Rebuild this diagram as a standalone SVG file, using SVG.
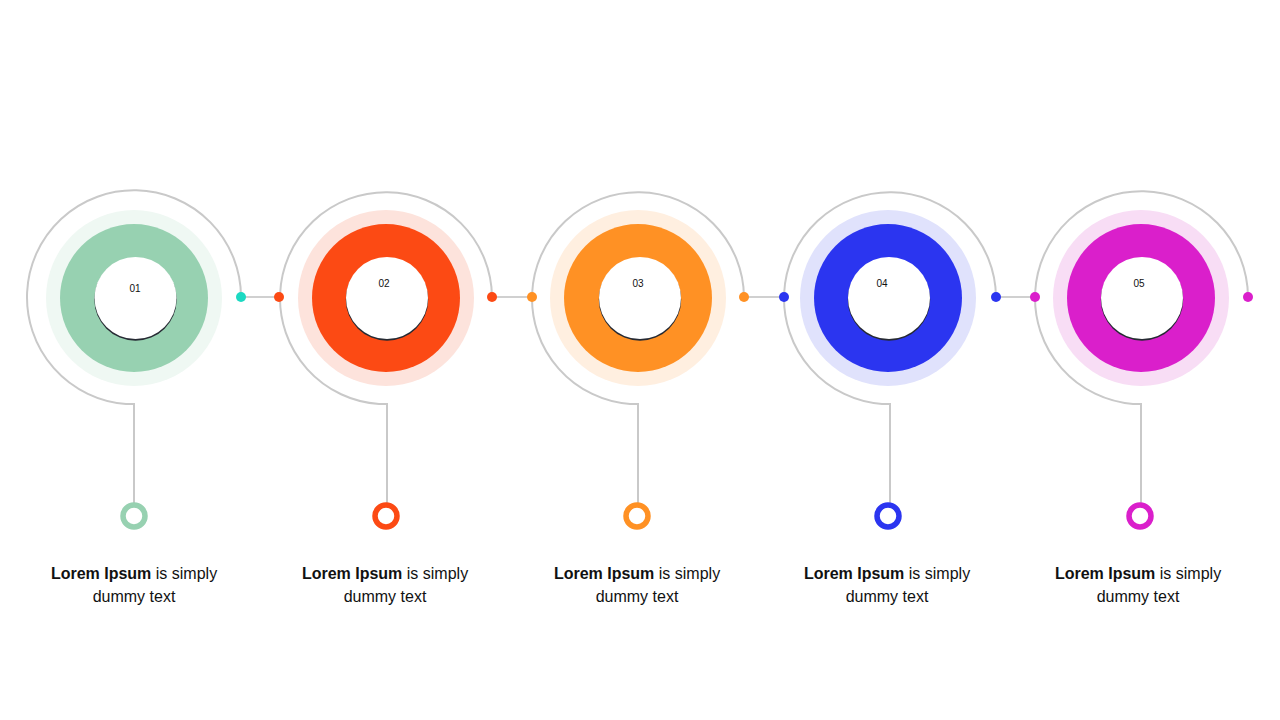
<svg xmlns="http://www.w3.org/2000/svg" width="1280" height="720" viewBox="0 0 1280 720">
<style>
.arc{fill:none;stroke:#C9C9C9;stroke-width:2}
.conn{stroke:#D0D0D0;stroke-width:2}
.shadow{fill:#262A33}
.inner{fill:#FFFFFF}
.num{font-family:"Liberation Sans",Arial,sans-serif;font-size:10px;fill:#111;text-anchor:middle}
.cap{font-family:"Liberation Sans",Arial,sans-serif;font-size:16px;fill:#111;text-anchor:middle}
.b{font-weight:bold}
</style>
<rect width="1280" height="720" fill="#FFFFFF"/>
<g id="connectors">
<line class="conn" x1="241" y1="297" x2="279" y2="297"/>
<line class="conn" x1="492" y1="297" x2="532" y2="297"/>
<line class="conn" x1="744" y1="297" x2="784" y2="297"/>
<line class="conn" x1="996" y1="297" x2="1035" y2="297"/>
</g>
<g id="step1">
<path class="arc" d="M241 297 A107 107 0 1 0 126 404 L134 404 L134 503"/>
<circle cx="134" cy="298" r="88" fill="#EFF8F3"/>
<circle cx="134" cy="298" r="74" fill="#97D1B1"/>
<circle class="shadow" cx="135.5" cy="299.5" r="41.2"/>
<circle class="inner" cx="135.5" cy="298" r="41"/>
<text class="num" x="135" y="292">01</text>
<circle cx="241" cy="297" r="5" fill="#1CD9C2"/>
<circle cx="134" cy="516" r="11" fill="none" stroke="#97D1B1" stroke-width="5.5"/>
<text class="cap" x="134" y="579"><tspan class="b">Lorem Ipsum</tspan> is simply</text>
<text class="cap" x="134" y="602">dummy text</text>
</g>
<g id="step2">
<path class="arc" d="M492 297 A106 106 0 1 0 379 404 L387 404 L387 503"/>
<circle cx="386" cy="298" r="88" fill="#FDE3DC"/>
<circle cx="386" cy="298" r="74" fill="#FC4A14"/>
<circle class="shadow" cx="387" cy="299.5" r="41.2"/>
<circle class="inner" cx="387" cy="298" r="41"/>
<text class="num" x="384" y="287">02</text>
<circle cx="279" cy="297" r="5" fill="#FC4A14"/>
<circle cx="492" cy="297" r="5" fill="#FC4A14"/>
<circle cx="386" cy="516" r="11" fill="none" stroke="#FC4A14" stroke-width="5.5"/>
<text class="cap" x="385" y="579"><tspan class="b">Lorem Ipsum</tspan> is simply</text>
<text class="cap" x="385" y="602">dummy text</text>
</g>
<g id="step3">
<path class="arc" d="M744 297 A106 106 0 1 0 630 404 L638 404 L638 503"/>
<circle cx="638" cy="298" r="88" fill="#FFEFE0"/>
<circle cx="638" cy="298" r="74" fill="#FF9124"/>
<circle class="shadow" cx="640" cy="299.5" r="41.2"/>
<circle class="inner" cx="640" cy="298" r="41"/>
<text class="num" x="638" y="287">03</text>
<circle cx="532" cy="297" r="5" fill="#FF9124"/>
<circle cx="744" cy="297" r="5" fill="#FF9124"/>
<circle cx="637" cy="516" r="11" fill="none" stroke="#FF9124" stroke-width="5.5"/>
<text class="cap" x="637" y="579"><tspan class="b">Lorem Ipsum</tspan> is simply</text>
<text class="cap" x="637" y="602">dummy text</text>
</g>
<g id="step4">
<path class="arc" d="M996 297 A106 106 0 1 0 882 404 L890 404 L890 503"/>
<circle cx="888" cy="298" r="88" fill="#E0E2FC"/>
<circle cx="888" cy="298" r="74" fill="#2B35F0"/>
<circle class="shadow" cx="889" cy="299.5" r="41.2"/>
<circle class="inner" cx="889" cy="298" r="41"/>
<text class="num" x="882" y="287">04</text>
<circle cx="784" cy="297" r="5" fill="#2B35F0"/>
<circle cx="996" cy="297" r="5" fill="#2B35F0"/>
<circle cx="888" cy="516" r="11" fill="none" stroke="#2B35F0" stroke-width="5.5"/>
<text class="cap" x="887" y="579"><tspan class="b">Lorem Ipsum</tspan> is simply</text>
<text class="cap" x="887" y="602">dummy text</text>
</g>
<g id="step5">
<path class="arc" d="M1248 297 A106.5 106.5 0 1 0 1133 404 L1141 404 L1141 503"/>
<circle cx="1141" cy="298" r="88" fill="#F8DDF5"/>
<circle cx="1141" cy="298" r="74" fill="#DA1FCB"/>
<circle class="shadow" cx="1142" cy="299.5" r="41.2"/>
<circle class="inner" cx="1142" cy="298" r="41"/>
<text class="num" x="1139" y="287">05</text>
<circle cx="1035" cy="297" r="5" fill="#DA1FCB"/>
<circle cx="1248" cy="297" r="5" fill="#DA1FCB"/>
<circle cx="1140" cy="516" r="11" fill="none" stroke="#DA1FCB" stroke-width="5.5"/>
<text class="cap" x="1138" y="579"><tspan class="b">Lorem Ipsum</tspan> is simply</text>
<text class="cap" x="1138" y="602">dummy text</text>
</g>
</svg>
